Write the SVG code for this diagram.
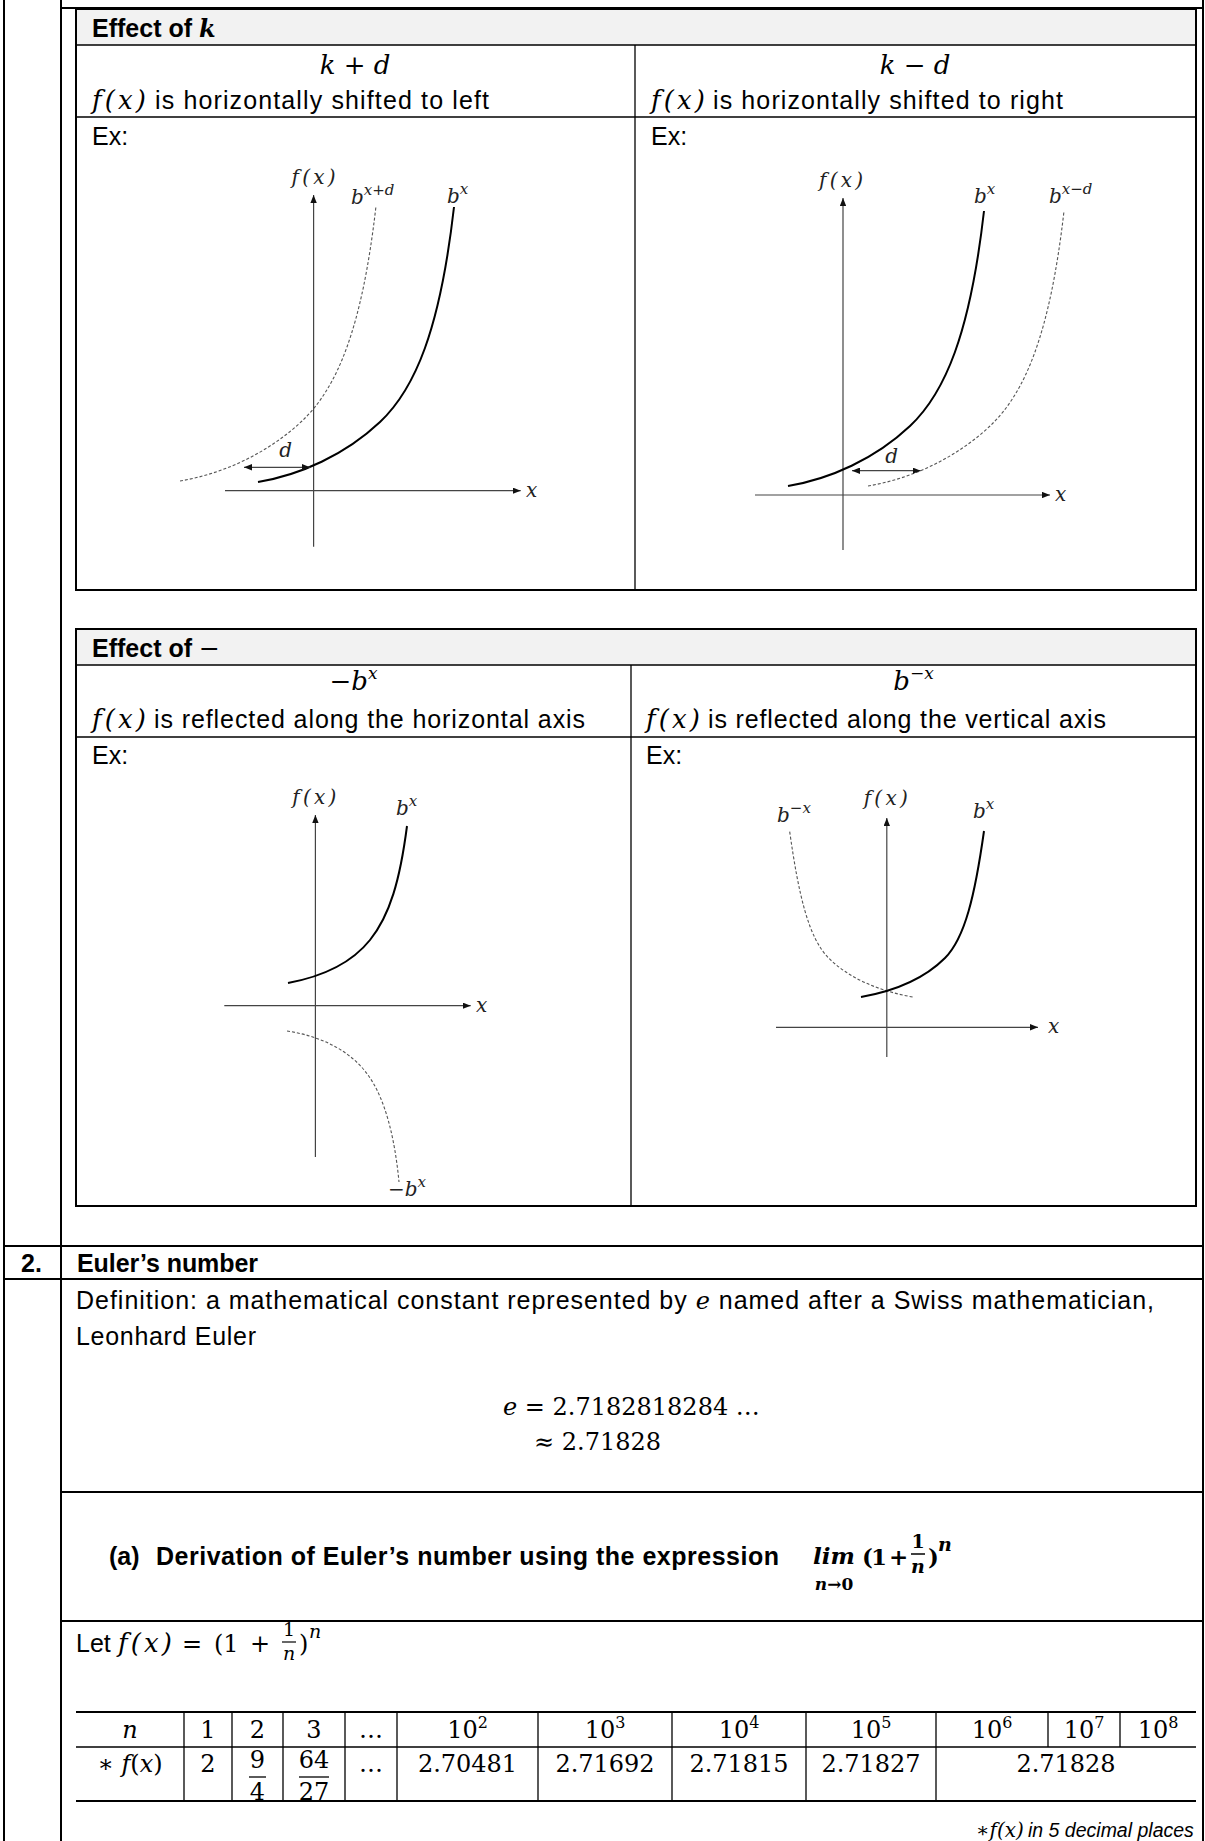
<svg xmlns="http://www.w3.org/2000/svg" width="1205" height="1841" viewBox="0 0 1205 1841">
<defs>
<style>
.s{font-family:"Liberation Sans",Arial,sans-serif;font-size:25px;fill:#000}
.sb{font-family:"Liberation Sans",Arial,sans-serif;font-size:25px;font-weight:bold;fill:#000}
.si{font-family:"Liberation Sans",Arial,sans-serif;font-size:19.5px;font-style:italic;fill:#000}
.m{font-family:"DejaVu Serif","Liberation Serif",serif;font-style:italic;font-size:26px;fill:#000}
.n{font-family:"DejaVu Serif","Liberation Serif",serif;font-size:24px;fill:#000}
.mb{font-family:"DejaVu Serif","Liberation Serif",serif;font-style:italic;font-weight:bold;font-size:24px;fill:#000}
.nb{font-family:"DejaVu Serif","Liberation Serif",serif;font-weight:bold;font-size:23px;fill:#000}
.g{font-family:"DejaVu Serif","Liberation Serif",serif;font-style:italic;font-size:20px;fill:#222}
.hd{fill:#f2f2f2;stroke:none}
.bd{stroke:#000;stroke-width:2;fill:none}
.ln{stroke:#000;stroke-width:1.3;fill:none}
.ax{stroke:#444;stroke-width:1.2;fill:none}
.cv{stroke:#000;stroke-width:2;fill:none}
.dc{stroke:#555;stroke-width:1.1;stroke-dasharray:3 2;fill:none}
</style>
<marker id="ah" viewBox="0 0 10 8" refX="10" refY="4" markerWidth="8" markerHeight="6.4" markerUnits="userSpaceOnUse" orient="auto-start-reverse"><path d="M0,0 L10,4 L0,8 z" fill="#111"/></marker>
<path id="c1" d="M258,482 C300,475 345,455 380,422 S440,330 454,207"/>
<path id="c3" d="M861,997 C895,991 925,978 945,958 S975,895 984,831"/>
</defs>
<rect width="1205" height="1841" fill="#fff"/>

<g id="outer-table">
<line class="bd" x1="4" y1="0" x2="4" y2="1841" stroke-width="1.5"/>
<line class="bd" x1="61" y1="0" x2="61" y2="1841"/>
<line class="bd" x1="1203" y1="0" x2="1203" y2="1841" stroke-width="1.5"/>
<line class="bd" x1="61" y1="8" x2="1203" y2="8"/>
<line class="bd" x1="4" y1="1246" x2="1203" y2="1246"/>
<line class="bd" x1="4" y1="1279" x2="1203" y2="1279"/>
<line class="bd" x1="61" y1="1492" x2="1203" y2="1492"/>
<line class="bd" x1="61" y1="1621" x2="1203" y2="1621" stroke-width="1.6"/>
</g>

<g id="table-effect-k">
<rect class="hd" x="76" y="9" width="1120" height="36"/>
<rect class="bd" x="76" y="9" width="1120" height="581"/>
<line class="ln" x1="76" y1="45" x2="1196" y2="45"/>
<line class="ln" x1="76" y1="117" x2="1196" y2="117"/>
<line class="ln" x1="635" y1="45" x2="635" y2="590"/>
<text class="sb" x="92" y="37">Effect of <tspan class="mb">k</tspan></text>
<text class="m" x="355" y="74" text-anchor="middle">k <tspan font-style="normal">+</tspan> d</text>
<text class="m" x="92" y="109" textLength="54">f(x)</text>
<text class="s" x="155" y="109" textLength="334">is horizontally shifted to left</text>
<text class="s" x="92" y="145">Ex:</text>
<text class="m" x="915" y="74" text-anchor="middle">k <tspan font-style="normal">−</tspan> d</text>
<text class="m" x="651" y="109" textLength="54">f(x)</text>
<text class="s" x="713" y="109" textLength="350">is horizontally shifted to right</text>
<text class="s" x="651" y="145">Ex:</text>
</g>

<g id="graph-shift-left">
<line class="ax" x1="313.6" y1="546.7" x2="313.6" y2="195" marker-end="url(#ah)"/>
<line class="ax" x1="225" y1="490.7" x2="520.7" y2="490.7" marker-end="url(#ah)"/>
<use href="#c1" class="dc" transform="translate(-78,-1)"/>
<use href="#c1" class="cv"/>
<line class="ax" x1="244" y1="467.3" x2="310" y2="467.3" marker-start="url(#ah)" marker-end="url(#ah)"/>
<text class="g" x="313.6" y="184" text-anchor="middle" textLength="44">f(x)</text>
<text class="g" x="351" y="204">b<tspan font-size="15" dy="-9">x+d</tspan></text>
<text class="g" x="447" y="203">b<tspan font-size="15" dy="-9">x</tspan></text>
<text class="g" x="285.7" y="457" text-anchor="middle">d</text>
<text class="g" x="526" y="497">x</text>
</g>

<g id="graph-shift-right">
<line class="ax" x1="843" y1="550" x2="843" y2="198" marker-end="url(#ah)"/>
<line class="ax" x1="755" y1="495" x2="1050" y2="495" marker-end="url(#ah)"/>
<use href="#c1" class="dc" transform="translate(610,4)"/>
<use href="#c1" class="cv" transform="translate(530,4)"/>
<line class="ax" x1="852" y1="470.7" x2="920.7" y2="470.7" marker-start="url(#ah)" marker-end="url(#ah)"/>
<text class="g" x="841" y="187" text-anchor="middle" textLength="44">f(x)</text>
<text class="g" x="974" y="203">b<tspan font-size="15" dy="-9">x</tspan></text>
<text class="g" x="1049" y="203">b<tspan font-size="15" dy="-9">x−d</tspan></text>
<text class="g" x="891.6" y="463" text-anchor="middle">d</text>
<text class="g" x="1055" y="501">x</text>
</g>

<g id="table-effect-minus">
<rect class="hd" x="76" y="629" width="1120" height="36"/>
<rect class="bd" x="76" y="629" width="1120" height="577"/>
<line class="ln" x1="76" y1="665" x2="1196" y2="665"/>
<line class="ln" x1="76" y1="737" x2="1196" y2="737"/>
<line class="ln" x1="631" y1="665" x2="631" y2="1206"/>
<text class="sb" x="92" y="657">Effect of <tspan class="n" style="font-size:25px;font-weight:normal">−</tspan></text>
<text class="m" x="353.5" y="690" text-anchor="middle"><tspan font-style="normal">−</tspan>b<tspan font-size="17" dy="-11">x</tspan></text>
<text class="m" x="92" y="728" textLength="54">f(x)</text>
<text class="s" x="154" y="728" textLength="431">is reflected along the horizontal axis</text>
<text class="s" x="92" y="764">Ex:</text>
<text class="m" x="913.5" y="690" text-anchor="middle">b<tspan font-size="17" dy="-11">−x</tspan></text>
<text class="m" x="646" y="728" textLength="54">f(x)</text>
<text class="s" x="708" y="728" textLength="398">is reflected along the vertical axis</text>
<text class="s" x="646" y="764">Ex:</text>
</g>

<g id="graph-reflect-horizontal">
<line class="ax" x1="315.4" y1="1157" x2="315.4" y2="815" marker-end="url(#ah)"/>
<line class="ax" x1="224.3" y1="1005.7" x2="470.7" y2="1005.7" marker-end="url(#ah)"/>
<path class="cv" d="M288,983 C320,977 350,965 370,940 S400,880 407,826"/>
<path class="dc" d="M287,1031 C320,1036 350,1050 368,1075 S395,1140 399,1182"/>
<text class="g" x="314.3" y="804" text-anchor="middle" textLength="44">f(x)</text>
<text class="g" x="396" y="815">b<tspan font-size="15" dy="-9">x</tspan></text>
<text class="g" x="388" y="1196"><tspan font-style="normal">−</tspan>b<tspan font-size="15" dy="-9">x</tspan></text>
<text class="g" x="476" y="1012">x</text>
</g>

<g id="graph-reflect-vertical">
<line class="ax" x1="886.8" y1="1057" x2="886.8" y2="818" marker-end="url(#ah)"/>
<line class="ax" x1="776" y1="1027.3" x2="1038" y2="1027.3" marker-end="url(#ah)"/>
<use href="#c3" class="dc" transform="translate(1773.6,0) scale(-1,1)"/>
<use href="#c3" class="cv"/>
<text class="g" x="885.7" y="805" text-anchor="middle" textLength="44">f(x)</text>
<text class="g" x="777" y="822">b<tspan font-size="15" dy="-9">−x</tspan></text>
<text class="g" x="973" y="818">b<tspan font-size="15" dy="-9">x</tspan></text>
<text class="g" x="1048" y="1033">x</text>
</g>

<g id="euler-header">
<text class="sb" x="21" y="1272">2.</text>
<text class="sb" x="77" y="1272" textLength="181">Euler’s number</text>
</g>

<g id="euler-definition">
<text class="s" x="76" y="1309" textLength="1078">Definition: a mathematical constant represented by <tspan class="m" style="font-size:24px">e</tspan> named after a Swiss mathematician,</text>
<text class="s" x="76" y="1345" textLength="180">Leonhard Euler</text>
<text class="n" x="503" y="1415"><tspan font-style="italic">e</tspan> = 2.7182818284 …</text>
<text class="n" x="534" y="1450">≈ 2.71828</text>
</g>

<g id="euler-derivation-title">
<text class="sb" x="109" y="1565">(a)</text>
<text class="sb" x="156" y="1565" textLength="623">Derivation of Euler’s number using the expression</text>
<text class="mb" x="813" y="1564" style="font-size:23px">lim</text>
<text class="mb" x="834" y="1590" style="font-size:17px" text-anchor="middle">n<tspan font-style="normal">→0</tspan></text>
<text class="nb" x="862" y="1565">(</text>
<text class="nb" x="871" y="1565">1</text>
<text class="nb" x="889" y="1565">+</text>
<text class="nb" x="918" y="1548" style="font-size:19px" text-anchor="middle">1</text>
<line x1="911" y1="1554" x2="925" y2="1554" stroke="#000" stroke-width="1.5"/>
<text class="mb" x="918" y="1573" style="font-size:19px" text-anchor="middle">n</text>
<text class="nb" x="928" y="1565">)</text>
<text class="mb" x="938" y="1551" style="font-size:19px">n</text>
</g>

<g id="euler-let">
<text class="s" x="76" y="1652">Let</text>
<text class="m" x="118" y="1652" textLength="54">f(x)</text>
<text class="n" x="182" y="1652">=</text>
<text class="n" x="214" y="1652">(1</text>
<text class="n" x="250" y="1652">+</text>
<text class="n" x="289" y="1636" style="font-size:19px" text-anchor="middle">1</text>
<line x1="282" y1="1642" x2="296" y2="1642" stroke="#000" stroke-width="1.2"/>
<text class="m" x="289" y="1660" style="font-size:19px" text-anchor="middle">n</text>
<text class="n" x="299" y="1652">)</text>
<text class="m" x="309" y="1638" style="font-size:19px">n</text>
</g>

<g id="value-table">
<line class="bd" x1="76" y1="1712" x2="1196" y2="1712"/>
<line class="ln" x1="76" y1="1747" x2="1196" y2="1747"/>
<line class="bd" x1="76" y1="1801" x2="1196" y2="1801"/>
<g class="ln">
<line x1="184" y1="1712" x2="184" y2="1801"/>
<line x1="232" y1="1712" x2="232" y2="1801"/>
<line x1="283" y1="1712" x2="283" y2="1801"/>
<line x1="345" y1="1712" x2="345" y2="1801"/>
<line x1="397" y1="1712" x2="397" y2="1801"/>
<line x1="538" y1="1712" x2="538" y2="1801"/>
<line x1="672" y1="1712" x2="672" y2="1801"/>
<line x1="806" y1="1712" x2="806" y2="1801"/>
<line x1="936" y1="1712" x2="936" y2="1801"/>
<line x1="1048" y1="1712" x2="1048" y2="1747"/>
<line x1="1120" y1="1712" x2="1120" y2="1747"/>
</g>
<g class="n" text-anchor="middle">
<text class="m" x="130" y="1738" style="font-size:24px">n</text>
<text x="208" y="1738">1</text>
<text x="257.5" y="1738">2</text>
<text x="314" y="1738">3</text>
<text x="371" y="1738">…</text>
<text x="467.5" y="1738">10<tspan font-size="16" dy="-10">2</tspan></text>
<text x="605" y="1738">10<tspan font-size="16" dy="-10">3</tspan></text>
<text x="739" y="1738">10<tspan font-size="16" dy="-10">4</tspan></text>
<text x="871" y="1738">10<tspan font-size="16" dy="-10">5</tspan></text>
<text x="992" y="1738">10<tspan font-size="16" dy="-10">6</tspan></text>
<text x="1084" y="1738">10<tspan font-size="16" dy="-10">7</tspan></text>
<text x="1158" y="1738">10<tspan font-size="16" dy="-10">8</tspan></text>
<text x="130" y="1772">∗ <tspan font-style="italic">f</tspan>(<tspan font-style="italic">x</tspan>)</text>
<text x="208" y="1772">2</text>
<text x="257.5" y="1768">9</text>
<text x="257.5" y="1800">4</text>
<text x="314" y="1768">64</text>
<text x="314" y="1800">27</text>
<text x="371" y="1772">…</text>
<text x="467.5" y="1772">2.70481</text>
<text x="605" y="1772">2.71692</text>
<text x="739" y="1772">2.71815</text>
<text x="871" y="1772">2.71827</text>
<text x="1066" y="1772">2.71828</text>
</g>
<line x1="249" y1="1777" x2="266" y2="1777" stroke="#000" stroke-width="1.3"/>
<line x1="299" y1="1777" x2="329" y2="1777" stroke="#000" stroke-width="1.3"/>
<text class="m" x="976" y="1837" style="font-size:20px">∗f(x)</text>
<text class="si" x="1028" y="1837">in 5 decimal places</text>
</g>
</svg>
